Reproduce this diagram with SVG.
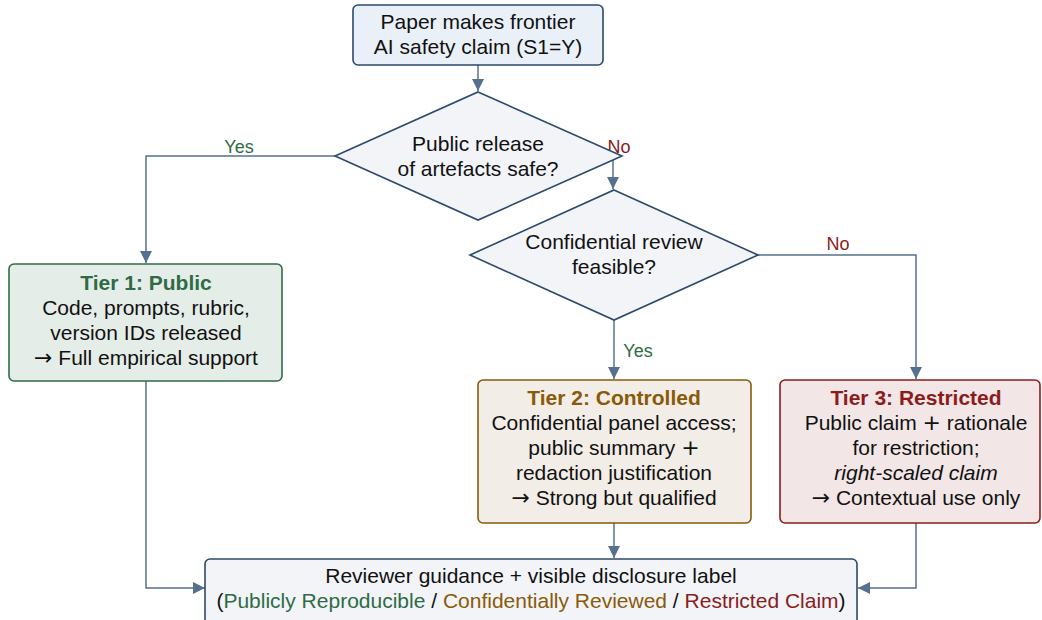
<svg xmlns="http://www.w3.org/2000/svg" width="1042" height="620" viewBox="0 0 1042 620">
<defs>
<marker id="arr" markerWidth="12" markerHeight="12" refX="10" refY="5" orient="auto" markerUnits="userSpaceOnUse" viewBox="0 0 10 10">
<path d="M0,0 L10,5 L0,10 z" fill="#56708e"/>
</marker>
<style>
text{font-family:"Liberation Sans",Arial,sans-serif;font-size:21px;fill:#111;text-anchor:middle}
.node{stroke-width:1.6}
.blue{fill:#eaf0f7;stroke:#2c4a6b}
.dia{fill:#f2f4f8;stroke:#2c4a6b}
.t1{fill:#e5ede8;stroke:#2f6b45}
.t2{fill:#f2ede7;stroke:#8a5a08}
.t3{fill:#f2e6e6;stroke:#8b1c1c}
.g{fill:#2f6b45}
.o{fill:#8a5a08}
.r{fill:#8b1c1c}
.b{font-weight:bold}
.lbl{font-size:18px}
.conn path{fill:none;stroke:#56708e;stroke-width:1.5}
.math{font-family:"DejaVu Sans",sans-serif;font-size:22px}
</style>
</defs>
<g class="conn">
<path d="M478,65 L478,91" marker-end="url(#arr)"/>
<path d="M335,156 L146,156 L146,263" marker-end="url(#arr)"/>
<path d="M613,160 L613,189" marker-end="url(#arr)"/>
<path d="M758,255 L916,255 L916,379" marker-end="url(#arr)"/>
<path d="M614,320 L614,379" marker-end="url(#arr)"/>
<path d="M146,381 L146,588 L205,588" marker-end="url(#arr)"/>
<path d="M614,523 L614,558" marker-end="url(#arr)"/>
<path d="M916,523 L916,588 L858,588" marker-end="url(#arr)"/>
<text x="239" y="153" class="lbl g">Yes</text>
<text x="619" y="153" class="lbl r">No</text>
<text x="838" y="250" class="lbl r">No</text>
<text x="638" y="357" class="lbl g">Yes</text>
</g>
<g id="start">
<rect class="node blue" x="353" y="5" width="250" height="60" rx="5"/>
<text x="478" y="29">Paper makes frontier</text>
<text x="478" y="54">AI safety claim (S1=Y)</text>
</g>
<g id="decision1">
<polygon class="node dia" points="478,92 622,156 478,220 335,156"/>
<text x="478" y="151">Public release</text>
<text x="478" y="176">of artefacts safe?</text>
</g>
<g id="decision2">
<polygon class="node dia" points="614,190 758,255 614,320 470,255"/>
<text x="614" y="249">Confidential review</text>
<text x="614" y="274">feasible?</text>
</g>
<g id="tier1">
<rect class="node t1" x="9" y="264" width="273" height="117" rx="5"/>
<text x="146" y="290" class="b g">Tier 1: Public</text>
<text x="146" y="315">Code, prompts, rubric,</text>
<text x="146" y="340">version IDs released</text>
<text x="146" y="365"><tspan class="math">→</tspan> Full empirical support</text>
</g>
<g id="tier2">
<rect class="node t2" x="478" y="380" width="273" height="143" rx="5"/>
<text x="614" y="405" class="b o">Tier 2: Controlled</text>
<text x="614" y="430">Confidential panel access;</text>
<text x="614" y="455">public summary <tspan class="math">+</tspan></text>
<text x="614" y="480">redaction justification</text>
<text x="614" y="505"><tspan class="math">→</tspan> Strong but qualified</text>
</g>
<g id="tier3">
<rect class="node t3" x="780" y="380" width="260" height="143" rx="5"/>
<text x="916" y="405" class="b r">Tier 3: Restricted</text>
<text x="916" y="430">Public claim <tspan class="math">+</tspan> rationale</text>
<text x="916" y="455">for restriction;</text>
<text x="916" y="480" font-style="italic">right-scaled claim</text>
<text x="916" y="505"><tspan class="math">→</tspan> Contextual use only</text>
</g>
<g id="guidance">
<rect class="node dia" x="205" y="559" width="652" height="70" rx="5"/>
<text x="531" y="583">Reviewer guidance + visible disclosure label</text>
<text x="531" y="608">(<tspan class="g">Publicly Reproducible</tspan> / <tspan class="o">Confidentially Reviewed</tspan> / <tspan class="r">Restricted Claim</tspan>)</text>
</g>
</svg>
